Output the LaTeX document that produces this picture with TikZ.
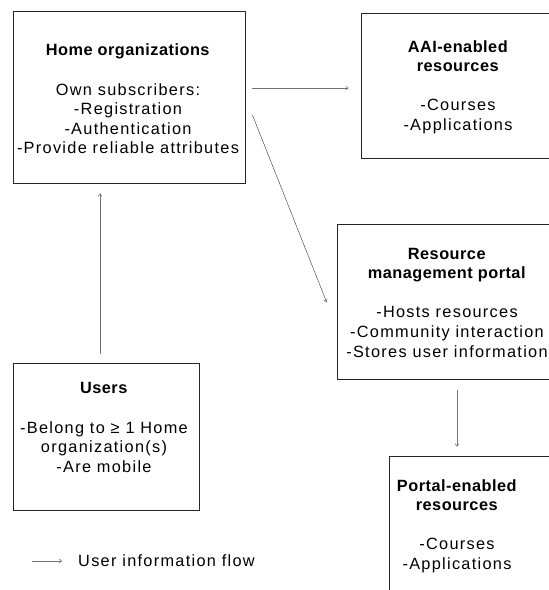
\documentclass[tikz,border=0pt]{standalone}
\usepackage{fontspec}
\setmainfont{Liberation Sans}[LetterSpace=8,BoldFeatures={LetterSpace=3}]
\usetikzlibrary{arrows.meta}
\begin{document}
\begin{tikzpicture}[x=1pt,y=-1pt,
  box/.style={draw=black!85,line width=0.9pt,rectangle,inner sep=0pt},
  txt/.style={align=center,font=\fontsize{16.3}{19.6}\selectfont,inner sep=0pt},
  flow/.style={draw=black!55,line width=0.6pt,-{To[length=3pt,width=4pt]}},
  dflow/.style={draw=black!80,line width=0.4pt,-{To[length=3pt,width=4pt]}}]
\useasboundingbox (0,0) rectangle (549,590);
\begin{scope}
\clip (0,0) rectangle (549,590);
\node[box,minimum width=232pt,minimum height=172pt] (home) at (129,97) {};
\node[box,minimum width=194pt,minimum height=145pt] (aai) at (458,85.5) {};
\node[box,minimum width=220pt,minimum height=155pt] (rmp) at (447,301.5) {};
\node[box,minimum width=186pt,minimum height=147pt] (users) at (106,436.5) {};
\node[box,minimum width=180pt,minimum height=160pt] (per) at (479,536) {};
\end{scope}
\node[txt] (homet) at (128,99) {\textbf{Home organizations}\\[19.6pt]Own subscribers:\\-Registration\\-Authentication\\-Provide reliable attributes};
\node[txt] (aait) at (458,87) {\textbf{AAI-enabled}\\\textbf{resources}\\[19.6pt]-Courses\\-Applications};
\node[txt] (rmpt) at (447,302.5) {\textbf{Resource}\\\textbf{management portal}\\[19.6pt]-Hosts resources\\-Community interaction\\-Stores user information};
\node[txt] (userst) at (104,427.5) {\textbf{Users}\\[19.6pt]-Belong to ≥ 1 Home\\organization(s)\\-Are mobile};
\node[txt] (pert) at (457,526) {\textbf{Portal-enabled}\\\textbf{resources}\\[19.6pt]-Courses\\-Applications};
\draw[flow] ([shift={(7pt,9pt)}]home.east) -- ([shift={(-12pt,-2.5pt)}]aai.west);
\draw[dflow] ([shift={(7pt,-18pt)}]home.east) -- ([shift={(-10pt,-0.5pt)}]rmp.west);
\draw[flow] ([shift={(10pt,-11pt)}]rmp.south) -- ([shift={(-22pt,9pt)}]per.north);
\draw[flow] ([shift={(-6pt,9pt)}]users.north) -- ([shift={(-29pt,-10pt)}]home.south);
\coordinate (la) at (32,561);
\coordinate (lb) at (62,561);
\draw[flow] (la) -- (lb);
\node[txt,anchor=west] (legt) at (78,561) {User information flow};
\end{tikzpicture}
\end{document}
